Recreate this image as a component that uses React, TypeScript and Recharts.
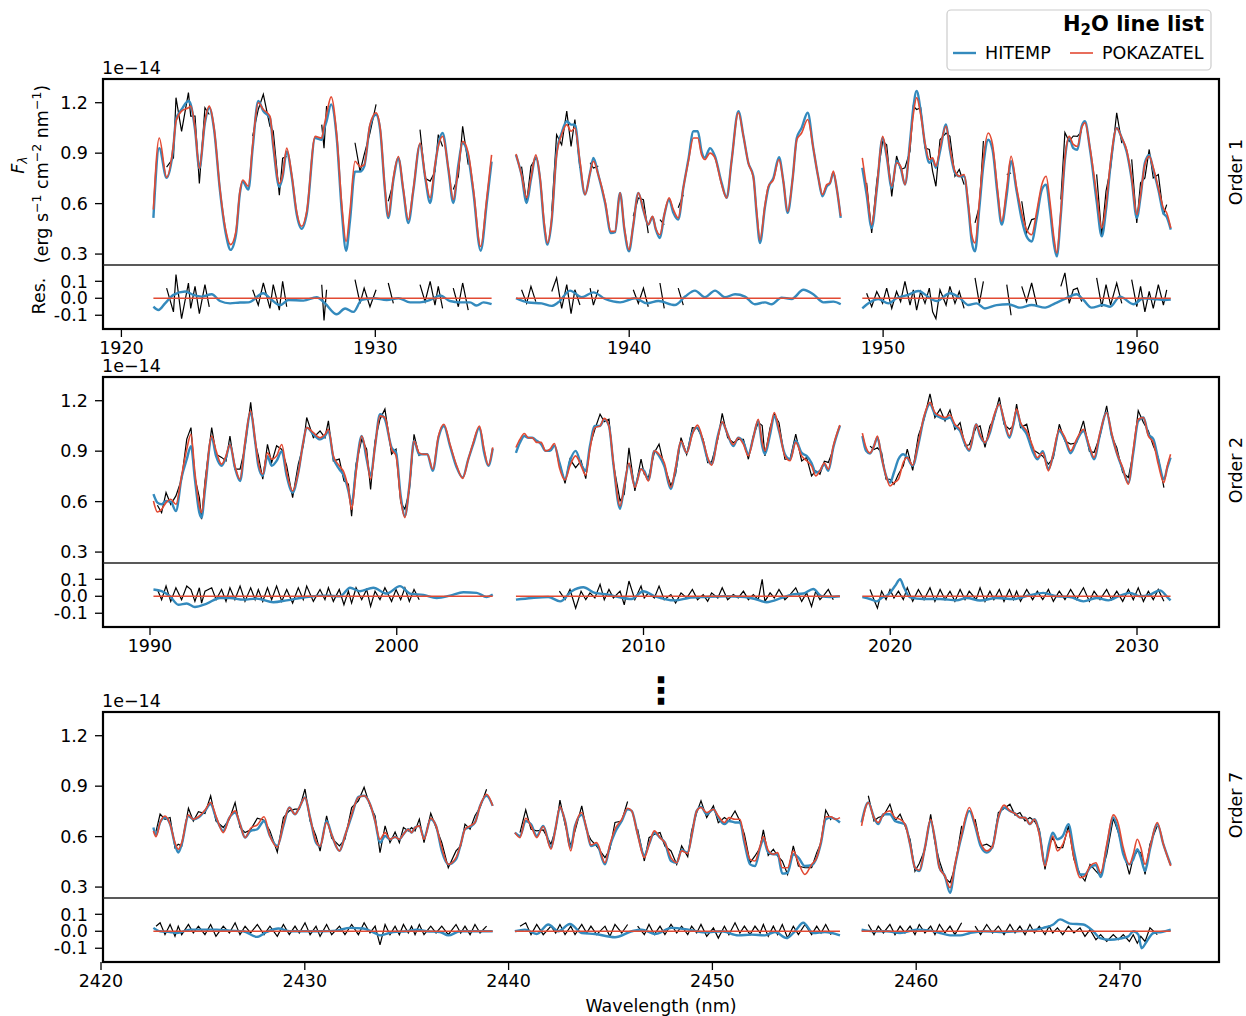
import { LineChart, Line, XAxis, YAxis } from "recharts";

type Row = [number, number, number, number | null];
type Pt = [number, number];

const BLUE = "#348ABD";
const RED = "#E24A33";
const FONT = "DejaVu Sans";
const FS = 17.5;

const MAIN_TICKS = [0.3, 0.6, 0.9, 1.2];
const RES_TICKS = [-0.1, 0, 0.1];
const O1_TICKS = [1920, 1930, 1940, 1950, 1960];
const O2_TICKS = [1990, 2000, 2010, 2020, 2030];
const O7_TICKS = [2420, 2430, 2440, 2450, 2460, 2470];

// [wavelength nm, POKAZATEL, HITEMP, (data - POKAZATEL) in 1e-16, null where masked]
const O1_A: Row[] = [
  [1921.26, 0.565, 0.515, null], [1921.49, 0.99, 0.93, null], [1921.78, 0.757, 0.753, 6], [1922.05, 0.952, 0.94, -8],
  [1922.15, 1.09, 1.1, 14], [1922.37, 1.15, 1.16, -12], [1922.64, 1.17, 1.21, 9], [1922.73, 1.18, 1.19, -6],
  [1922.9, 1.05, 1.04, 7], [1923.07, 0.81, 0.81, -9], [1923.29, 1.09, 1.08, 8], [1923.46, 1.18, 1.17, -5],
  [1923.65, 1.05, 1.04, null], [1923.88, 0.69, 0.68, null], [1924.12, 0.435, 0.415, null], [1924.3, 0.356, 0.325, null],
  [1924.51, 0.435, 0.415, null], [1924.67, 0.675, 0.665, null], [1924.78, 0.74, 0.73, null], [1925.0, 0.703, 0.683, null],
  [1925.17, 0.952, 0.93, 5], [1925.39, 1.2, 1.21, -4], [1925.59, 1.16, 1.15, 9], [1925.85, 1.12, 1.11, -6],
  [1925.98, 0.952, 0.94, 8], [1926.22, 0.72, 0.7, -7], [1926.35, 0.77, 0.76, 10], [1926.51, 0.93, 0.91, -5],
  [1926.71, 0.77, 0.76, null], [1926.9, 0.554, 0.54, null], [1927.1, 0.465, 0.45, null], [1927.3, 0.554, 0.54, null],
  [1927.63, 1.0, 0.99, null], [1927.89, 0.99, 0.98, 8], [1927.98, 1.06, 1.04, -13], [1928.08, 1.13, 1.09, 5],
  [1928.26, 1.235, 1.19, null], [1928.48, 1.01, 0.99, null], [1928.68, 0.594, 0.554, null], [1928.85, 0.375, 0.32, null],
  [1929.0, 0.554, 0.495, null], [1929.2, 0.852, 0.79, 11], [1929.4, 0.82, 0.79, -3], [1929.56, 0.83, 0.82, 6],
  [1929.79, 1.07, 1.06, -5], [1930.03, 1.14, 1.13, 5], [1930.19, 1.05, 1.04, null], [1930.38, 0.69, 0.68, null],
  [1930.51, 0.524, 0.514, 9], [1930.71, 0.753, 0.74, -3], [1930.91, 0.88, 0.87, null], [1931.1, 0.69, 0.68, null],
  [1931.3, 0.505, 0.485, null], [1931.5, 0.69, 0.68, null], [1931.76, 0.96, 0.95, 8], [1931.96, 0.77, 0.76, -2],
  [1932.16, 0.634, 0.604, 10], [1932.35, 0.83, 0.82, -4], [1932.48, 0.94, 0.95, 7], [1932.65, 1.0, 1.02, -6],
  [1932.88, 0.81, 0.8, null], [1933.07, 0.624, 0.604, 6], [1933.27, 0.81, 0.83, -5], [1933.44, 0.97, 0.96, 9],
  [1933.66, 0.902, 0.88, -7], [1933.86, 0.69, 0.67, null], [1934.15, 0.345, 0.32, null], [1934.39, 0.634, 0.604, null],
  [1934.58, 0.89, 0.85, null],
];
const O1_B: Row[] = [
  [1935.54, 0.895, 0.89, null], [1935.76, 0.77, 0.77, 5], [1935.96, 0.634, 0.604, -3], [1936.13, 0.753, 0.743, 7],
  [1936.32, 0.89, 0.875, -2], [1936.49, 0.753, 0.743, null], [1936.66, 0.475, 0.455, null], [1936.78, 0.366, 0.356, null],
  [1936.95, 0.515, 0.505, 4], [1937.14, 0.89, 0.9, 12], [1937.34, 1.01, 1.02, -6], [1937.54, 1.07, 1.09, 8],
  [1937.71, 1.03, 1.07, -9], [1937.86, 1.05, 1.07, 5], [1938.06, 0.852, 0.832, -4], [1938.26, 0.654, 0.654, null],
  [1938.46, 0.783, 0.783, 6], [1938.59, 0.852, 0.872, -4], [1938.78, 0.773, 0.773, 5], [1939.05, 0.614, 0.604, null],
  [1939.28, 0.435, 0.425, null], [1939.44, 0.435, 0.43, null], [1939.64, 0.664, 0.664, null], [1939.81, 0.455, 0.445, null],
  [1939.99, 0.326, 0.316, null], [1940.16, 0.475, 0.47, 5], [1940.36, 0.664, 0.664, -3], [1940.56, 0.564, 0.56, 6],
  [1940.75, 0.475, 0.475, -5], [1940.92, 0.525, 0.52, null], [1941.04, 0.455, 0.45, null], [1941.21, 0.415, 0.395, 9],
  [1941.38, 0.535, 0.53, -6], [1941.57, 0.634, 0.624, null], [1941.74, 0.564, 0.545, null], [1941.93, 0.515, 0.505, 6],
  [1942.13, 0.693, 0.693, -4], [1942.33, 0.852, 0.862, null], [1942.53, 0.99, 1.03, null], [1942.7, 0.99, 1.03, null],
  [1942.85, 0.89, 0.91, null], [1942.98, 0.862, 0.872, null], [1943.18, 0.9, 0.93, null], [1943.38, 0.87, 0.88, null],
  [1943.64, 0.713, 0.723, null], [1943.84, 0.634, 0.634, null], [1944.03, 0.852, 0.852, null], [1944.3, 1.14, 1.15, null],
  [1944.5, 1.0, 1.0, null], [1944.69, 0.843, 0.843, null], [1944.89, 0.753, 0.763, null], [1945.02, 0.554, 0.535, null],
  [1945.15, 0.385, 0.366, null], [1945.35, 0.594, 0.584, null], [1945.48, 0.703, 0.693, null], [1945.68, 0.743, 0.753, null],
  [1945.9, 0.862, 0.876, null], [1946.07, 0.733, 0.733, null], [1946.24, 0.554, 0.545, null], [1946.44, 0.753, 0.753, null],
  [1946.6, 0.98, 0.99, null], [1946.79, 1.02, 1.05, null], [1947.03, 1.1, 1.14, null], [1947.25, 0.93, 0.93, null],
  [1947.45, 0.753, 0.753, null], [1947.61, 0.654, 0.644, null], [1947.78, 0.713, 0.703, null], [1947.91, 0.723, 0.723, null],
  [1948.04, 0.793, 0.783, null], [1948.17, 0.693, 0.693, null], [1948.33, 0.525, 0.515, null],
];
const O1_C: Row[] = [
  [1949.18, 0.872, 0.813, null], [1949.35, 0.693, 0.654, 3], [1949.55, 0.475, 0.455, -5], [1949.75, 0.693, 0.683, 4],
  [1949.98, 1.0, 0.99, -3], [1950.14, 0.89, 0.88, 6], [1950.34, 0.703, 0.693, -6], [1950.53, 0.843, 0.852, 4],
  [1950.69, 0.823, 0.813, -2], [1950.86, 0.713, 0.713, 10], [1951.06, 0.952, 0.97, -4], [1951.19, 1.13, 1.17, 5],
  [1951.32, 1.23, 1.27, -7], [1951.48, 1.13, 1.15, 4], [1951.65, 0.96, 0.95, -3], [1951.82, 0.862, 0.843, 6],
  [1951.95, 0.872, 0.86, -8], [1952.08, 0.823, 0.813, -12], [1952.24, 0.93, 0.91, 5], [1952.48, 1.06, 1.07, -4],
  [1952.63, 0.93, 0.92, 7], [1952.83, 0.793, 0.783, -3], [1953.0, 0.763, 0.763, 4], [1953.19, 0.773, 0.763, -6],
  [1953.36, 0.594, 0.574, null], [1953.49, 0.415, 0.375, null], [1953.62, 0.366, 0.316, 12], [1953.79, 0.614, 0.574, -3],
  [1953.95, 0.872, 0.83, 10], [1954.14, 1.02, 0.98, null], [1954.31, 0.952, 0.92, null], [1954.5, 0.693, 0.663, null],
  [1954.67, 0.495, 0.475, null], [1954.87, 0.693, 0.654, 8], [1955.04, 0.882, 0.852, -10], [1955.26, 0.693, 0.673, null],
  [1955.46, 0.544, 0.505, 7], [1955.65, 0.445, 0.405, -2], [1955.85, 0.415, 0.375, 9], [1956.05, 0.554, 0.515, -4],
  [1956.25, 0.713, 0.683, null], [1956.42, 0.763, 0.713, null], [1956.57, 0.614, 0.564, null], [1956.73, 0.395, 0.356, null],
  [1956.84, 0.306, 0.286, null], [1957.0, 0.554, 0.534, 7], [1957.16, 0.872, 0.862, 15], [1957.33, 1.0, 0.99, -3],
  [1957.49, 0.952, 0.93, 5], [1957.65, 0.94, 0.92, 6], [1957.82, 1.05, 1.06, -2], [1957.95, 1.08, 1.09, null],
  [1958.15, 0.93, 0.92, null], [1958.41, 0.654, 0.614, 12], [1958.61, 0.455, 0.405, -5], [1958.78, 0.594, 0.564, 8],
  [1958.96, 0.852, 0.832, -4], [1959.2, 1.05, 1.05, 9], [1959.4, 0.99, 0.99, -3], [1959.59, 0.92, 0.91, null],
  [1959.79, 0.753, 0.743, 11], [1959.99, 0.535, 0.515, -5], [1960.14, 0.654, 0.64, 7], [1960.31, 0.833, 0.843, -8],
  [1960.48, 0.882, 0.89, 4], [1960.64, 0.813, 0.803, -6], [1960.84, 0.693, 0.683, 8], [1961.04, 0.574, 0.544, -4],
  [1961.17, 0.544, 0.52, 5], [1961.33, 0.455, 0.445, null],
];

const O2_A: Row[] = [
  [1990.14, 0.604, 0.644, null], [1990.3, 0.538, 0.594, 4], [1990.47, 0.554, 0.584, -2], [1990.65, 0.594, 0.604, 6],
  [1990.84, 0.614, 0.6, -3], [1991.05, 0.584, 0.544, 5], [1991.28, 0.753, 0.743, -2], [1991.49, 0.912, 0.852, 6],
  [1991.66, 1.0, 0.93, 4], [1991.82, 0.773, 0.733, -3], [1992.0, 0.574, 0.534, 5], [1992.09, 0.535, 0.505, -4],
  [1992.23, 0.693, 0.673, 3], [1992.5, 0.99, 0.98, 5], [1992.68, 0.902, 0.87, -2], [1992.9, 0.823, 0.813, 4],
  [1993.08, 0.872, 0.862, -3], [1993.24, 0.94, 0.94, 5], [1993.44, 0.813, 0.803, -2], [1993.65, 0.733, 0.723, 6],
  [1993.85, 0.952, 0.94, -3], [1994.08, 1.14, 1.13, 5], [1994.26, 0.97, 0.96, -2], [1994.39, 0.833, 0.813, 4],
  [1994.57, 0.763, 0.753, -3], [1994.76, 0.89, 0.87, 5], [1994.93, 0.852, 0.813, -2], [1995.13, 0.872, 0.842, 6],
  [1995.34, 0.94, 0.9, -3], [1995.54, 0.773, 0.753, 4], [1995.78, 0.664, 0.654, -4], [1996.01, 0.773, 0.773, 5],
  [1996.21, 0.952, 0.952, -2], [1996.35, 1.04, 1.04, 6], [1996.62, 1.01, 1.0, -3], [1996.89, 0.98, 0.97, 4],
  [1997.09, 1.0, 0.99, -2], [1997.23, 1.03, 1.02, 5], [1997.43, 0.872, 0.862, -3], [1997.67, 0.813, 0.793, 4],
  [1997.86, 0.773, 0.753, -5], [1998.04, 0.674, 0.664, 3], [1998.17, 0.554, 0.584, -4], [1998.35, 0.773, 0.793, 5],
  [1998.58, 0.99, 0.99, -2], [1998.78, 0.872, 0.852, 4], [1998.94, 0.733, 0.753, -6], [1999.12, 0.93, 0.93, 3],
  [1999.32, 1.11, 1.12, -2], [1999.52, 1.1, 1.09, 5], [1999.79, 0.912, 0.922, -3], [1999.97, 0.872, 0.892, 4],
  [2000.16, 0.614, 0.634, -2], [2000.33, 0.505, 0.515, 5], [2000.51, 0.693, 0.693, -3], [2000.7, 0.96, 0.96, 4],
  [2000.91, 0.89, 0.88, -2], [2001.08, 0.882, 0.882, null], [2001.24, 0.882, 0.882, null], [2001.46, 0.793, 0.783, null],
  [2001.69, 0.99, 0.98, null], [2001.91, 1.06, 1.05, null], [2002.16, 0.94, 0.93, null], [2002.43, 0.813, 0.803, null],
  [2002.67, 0.738, 0.743, null], [2002.9, 0.852, 0.852, null], [2003.1, 0.952, 0.942, null], [2003.35, 1.05, 1.04, null],
  [2003.54, 0.912, 0.892, null], [2003.71, 0.816, 0.813, null], [2003.89, 0.922, 0.916, null],
];
const O2_B: Row[] = [
  [2004.83, 0.922, 0.89, null], [2004.99, 0.97, 0.95, null], [2005.17, 1.005, 0.99, null], [2005.33, 0.98, 0.98, null],
  [2005.49, 0.98, 0.98, null], [2005.67, 0.952, 0.962, null], [2005.85, 0.952, 0.942, null], [2006.03, 0.902, 0.902, null],
  [2006.21, 0.912, 0.902, null], [2006.39, 0.946, 0.932, null], [2006.59, 0.803, 0.833, 3], [2006.82, 0.729, 0.733, -2],
  [2007.02, 0.813, 0.843, 4], [2007.25, 0.872, 0.902, -7], [2007.47, 0.813, 0.823, 3], [2007.66, 0.757, 0.783, -2],
  [2007.83, 0.912, 0.932, 2], [2008.03, 1.04, 1.05, -1], [2008.24, 1.05, 1.05, 7], [2008.41, 1.095, 1.09, -2],
  [2008.6, 1.05, 1.05, 4], [2008.78, 0.833, 0.823, -1], [2009.05, 0.574, 0.558, 3], [2009.22, 0.693, 0.693, -5],
  [2009.41, 0.83, 0.823, 9], [2009.65, 0.684, 0.693, -2], [2009.9, 0.793, 0.793, 6], [2010.03, 0.773, 0.783, -1],
  [2010.2, 0.723, 0.729, 2], [2010.44, 0.902, 0.902, -1], [2010.63, 0.882, 0.872, 6], [2010.84, 0.833, 0.813, -2],
  [2011.11, 0.684, 0.674, 1], [2011.3, 0.803, 0.793, -4], [2011.52, 0.96, 0.952, 2], [2011.75, 0.89, 0.89, -1],
  [2011.98, 1.0, 1.01, 4], [2012.19, 1.055, 1.04, -2], [2012.42, 0.96, 0.952, 1], [2012.6, 0.862, 0.852, -3],
  [2012.76, 0.816, 0.823, 2], [2013.01, 0.98, 0.99, -1], [2013.19, 1.075, 1.07, 5], [2013.41, 1.0, 1.0, -2],
  [2013.64, 0.94, 0.93, 1], [2013.84, 0.98, 0.98, -1], [2014.05, 0.94, 0.952, 3], [2014.25, 0.872, 0.882, -2],
  [2014.45, 0.98, 0.98, 1], [2014.65, 1.09, 1.08, -2], [2014.81, 0.952, 0.932, 10], [2014.92, 0.902, 0.882, -3],
  [2015.13, 1.02, 1.0, 2], [2015.3, 1.13, 1.11, -1], [2015.49, 1.03, 1.02, 4], [2015.73, 0.872, 0.882, -2],
  [2015.94, 0.843, 0.852, 1], [2016.17, 0.952, 0.962, 5], [2016.41, 0.872, 0.89, -3], [2016.61, 0.843, 0.872, 2],
  [2016.81, 0.813, 0.83, -6], [2016.98, 0.753, 0.773, 3], [2017.15, 0.783, 0.783, -2], [2017.33, 0.83, 0.823, 1],
  [2017.49, 0.793, 0.783, 4], [2017.69, 0.93, 0.92, -2], [2017.96, 1.055, 1.05, null],
];
const O2_C: Row[] = [
  [2018.87, 1.007, 0.99, null], [2019.02, 0.922, 0.902, null], [2019.18, 0.89, 0.886, 4], [2019.34, 0.93, 0.93, -2],
  [2019.48, 0.99, 0.98, -7], [2019.65, 0.862, 0.862, 3], [2019.83, 0.753, 0.753, -2], [2019.99, 0.693, 0.713, 4],
  [2020.15, 0.713, 0.773, -1], [2020.33, 0.733, 0.852, 3], [2020.53, 0.833, 0.882, -2], [2020.69, 0.862, 0.862, 5],
  [2020.91, 0.816, 0.813, -3], [2021.14, 0.952, 0.94, 4], [2021.37, 1.11, 1.1, -2], [2021.61, 1.19, 1.18, 5],
  [2021.81, 1.13, 1.12, -3], [2022.02, 1.11, 1.1, 4], [2022.22, 1.1, 1.09, -2], [2022.42, 1.115, 1.1, 3],
  [2022.62, 1.06, 1.05, -3], [2022.83, 1.03, 1.02, 4], [2023.03, 0.952, 0.942, -2], [2023.2, 0.908, 0.902, 3],
  [2023.48, 1.06, 1.06, -2], [2023.64, 1.0, 0.99, 5], [2023.84, 0.952, 0.952, -3], [2024.04, 1.02, 1.01, 3],
  [2024.2, 1.11, 1.1, -2], [2024.42, 1.18, 1.18, 4], [2024.61, 1.09, 1.08, -3], [2024.83, 0.99, 0.98, 4],
  [2024.99, 1.07, 1.06, -2], [2025.12, 1.15, 1.14, 3], [2025.28, 1.07, 1.06, -3], [2025.53, 1.02, 1.0, 4],
  [2025.77, 0.93, 0.9, -2], [2025.96, 0.862, 0.852, 3], [2026.18, 0.89, 0.9, -2], [2026.41, 0.783, 0.793, 4],
  [2026.61, 0.89, 0.88, -3], [2026.85, 1.03, 1.02, 3], [2027.08, 0.98, 0.97, -2], [2027.31, 0.902, 0.888, 4],
  [2027.55, 0.97, 0.96, -2], [2027.83, 1.03, 1.02, 5], [2028.07, 0.93, 0.92, -3], [2028.26, 0.862, 0.852, 3],
  [2028.5, 1.01, 1.0, -2], [2028.77, 1.13, 1.13, 4], [2028.97, 1.01, 1.0, -2], [2029.18, 0.89, 0.89, 3],
  [2029.42, 0.803, 0.793, -3], [2029.65, 0.703, 0.713, 4], [2029.85, 0.912, 0.892, -2], [2030.05, 1.09, 1.08, 5],
  [2030.26, 1.1, 1.1, -3], [2030.46, 0.99, 1.0, 3], [2030.66, 0.952, 0.972, -2], [2030.86, 0.823, 0.852, 4],
  [2031.09, 0.713, 0.733, -3], [2031.23, 0.813, 0.803, null], [2031.36, 0.882, 0.862, null],
];

const O7_A: Row[] = [
  [2422.57, 0.634, 0.654, null], [2422.7, 0.6, 0.61, 3], [2422.9, 0.684, 0.684, 5], [2423.14, 0.723, 0.713, -2],
  [2423.39, 0.674, 0.674, 4], [2423.63, 0.564, 0.554, -3], [2423.79, 0.525, 0.505, 3], [2423.96, 0.564, 0.554, -2],
  [2424.29, 0.729, 0.723, 4], [2424.53, 0.703, 0.703, -1], [2424.78, 0.718, 0.713, 3], [2425.1, 0.757, 0.753, -2],
  [2425.38, 0.803, 0.793, 4], [2425.64, 0.723, 0.713, -3], [2426.0, 0.624, 0.634, 3], [2426.3, 0.713, 0.713, -1],
  [2426.58, 0.753, 0.743, 5], [2426.82, 0.674, 0.674, -2], [2427.07, 0.594, 0.594, 3], [2427.34, 0.65, 0.634, -1],
  [2427.67, 0.67, 0.644, 4], [2428.0, 0.718, 0.693, -2], [2428.29, 0.604, 0.604, 3], [2428.65, 0.538, 0.544, -3],
  [2428.95, 0.674, 0.664, 4], [2429.24, 0.773, 0.773, -2], [2429.52, 0.733, 0.733, 3], [2429.73, 0.773, 0.773, -1],
  [2430.01, 0.833, 0.833, 5], [2430.26, 0.713, 0.713, -2], [2430.55, 0.574, 0.564, 3], [2430.75, 0.544, 0.544, -3],
  [2431.07, 0.684, 0.693, 4], [2431.32, 0.61, 0.61, -2], [2431.7, 0.515, 0.515, 3], [2431.97, 0.604, 0.604, -2],
  [2432.3, 0.733, 0.723, 4], [2432.63, 0.833, 0.837, -2], [2432.91, 0.843, 0.843, 5], [2433.2, 0.793, 0.793, -1],
  [2433.45, 0.693, 0.693, 3], [2433.69, 0.584, 0.564, -8], [2433.94, 0.624, 0.604, 4], [2434.18, 0.584, 0.584, -2],
  [2434.43, 0.598, 0.598, 3], [2434.64, 0.584, 0.584, -2], [2434.84, 0.614, 0.614, 4], [2435.08, 0.644, 0.644, -1],
  [2435.24, 0.624, 0.624, 3], [2435.41, 0.654, 0.654, -2], [2435.62, 0.664, 0.664, 4], [2435.85, 0.584, 0.594, -2],
  [2436.18, 0.709, 0.703, 3], [2436.44, 0.664, 0.664, -1], [2436.72, 0.535, 0.515, 3], [2437.04, 0.435, 0.435, -2],
  [2437.42, 0.475, 0.465, 4], [2437.65, 0.554, 0.554, -1], [2437.86, 0.644, 0.644, 3], [2438.11, 0.664, 0.658, -2],
  [2438.35, 0.684, 0.684, 4], [2438.6, 0.783, 0.783, -1], [2438.92, 0.852, 0.842, 3], [2439.22, 0.783, 0.783, null],
];
const O7_B: Row[] = [
  [2440.31, 0.624, 0.624, null], [2440.56, 0.594, 0.604, 3], [2440.84, 0.709, 0.693, 5], [2441.1, 0.664, 0.674, -2],
  [2441.38, 0.594, 0.604, 4], [2441.7, 0.66, 0.664, -2], [2442.08, 0.525, 0.535, 3], [2442.31, 0.654, 0.654, -1],
  [2442.52, 0.777, 0.773, 4], [2442.77, 0.693, 0.693, -2], [2443.05, 0.515, 0.535, 3], [2443.26, 0.654, 0.664, -2],
  [2443.59, 0.743, 0.729, 4], [2443.83, 0.644, 0.644, -1], [2444.04, 0.55, 0.544, 3], [2444.32, 0.564, 0.554, -2],
  [2444.73, 0.445, 0.435, 3], [2444.97, 0.554, 0.544, -3], [2445.22, 0.644, 0.624, 4], [2445.55, 0.703, 0.693, -1],
  [2445.84, 0.769, 0.763, 4], [2446.04, 0.753, 0.753, null], [2446.33, 0.614, 0.618, 3], [2446.66, 0.475, 0.49, -2],
  [2446.89, 0.554, 0.554, 4], [2447.15, 0.634, 0.624, -2], [2447.43, 0.594, 0.594, 3], [2447.67, 0.564, 0.564, -2],
  [2447.97, 0.475, 0.455, 4], [2448.25, 0.445, 0.445, -1], [2448.49, 0.515, 0.519, 3], [2448.79, 0.5, 0.505, -2],
  [2448.98, 0.604, 0.604, 3], [2449.23, 0.753, 0.753, -1], [2449.44, 0.773, 0.777, 4], [2449.72, 0.743, 0.733, -3],
  [2450.05, 0.763, 0.763, 2], [2450.29, 0.723, 0.713, -4], [2450.59, 0.684, 0.674, 3], [2450.81, 0.713, 0.693, -2],
  [2451.11, 0.703, 0.684, 5], [2451.35, 0.703, 0.684, -1], [2451.57, 0.584, 0.564, 3], [2451.85, 0.465, 0.435, -2],
  [2452.09, 0.455, 0.425, 3], [2452.34, 0.544, 0.534, -1], [2452.5, 0.6, 0.584, 4], [2452.74, 0.518, 0.505, -3],
  [2452.99, 0.495, 0.495, 3], [2453.2, 0.505, 0.495, -2], [2453.43, 0.415, 0.38, 4], [2453.69, 0.415, 0.385, -4],
  [2453.97, 0.515, 0.495, 3], [2454.22, 0.445, 0.475, -2], [2454.54, 0.375, 0.425, 4], [2454.87, 0.435, 0.43, -2],
  [2455.12, 0.475, 0.475, 3], [2455.33, 0.574, 0.564, -1], [2455.56, 0.718, 0.703, 4], [2455.82, 0.718, 0.713, -2],
  [2456.05, 0.703, 0.703, null], [2456.26, 0.713, 0.684, null],
];
const O7_C: Row[] = [
  [2457.32, 0.664, 0.684, null], [2457.65, 0.803, 0.803, 4], [2457.93, 0.713, 0.713, -2], [2458.14, 0.684, 0.674, 3],
  [2458.39, 0.733, 0.733, -1], [2458.71, 0.753, 0.733, 4], [2458.96, 0.713, 0.693, -2], [2459.21, 0.703, 0.683, 3],
  [2459.45, 0.674, 0.674, -1], [2459.7, 0.554, 0.554, 3], [2459.94, 0.415, 0.415, -2], [2460.15, 0.4, 0.395, 4],
  [2460.43, 0.535, 0.535, -1], [2460.71, 0.703, 0.693, 3], [2460.92, 0.584, 0.584, -2], [2461.14, 0.415, 0.415, 4],
  [2461.41, 0.366, 0.366, -1], [2461.66, 0.296, 0.266, 3], [2461.9, 0.435, 0.425, -2], [2462.23, 0.614, 0.604, 5],
  [2462.61, 0.773, 0.753, null], [2462.89, 0.674, 0.664, 3], [2463.16, 0.564, 0.544, -2], [2463.46, 0.515, 0.505, 4],
  [2463.75, 0.544, 0.544, -1], [2464.03, 0.713, 0.713, 3], [2464.31, 0.787, 0.773, -2], [2464.6, 0.753, 0.753, 4],
  [2464.85, 0.738, 0.738, -1], [2465.09, 0.713, 0.713, 3], [2465.34, 0.713, 0.713, -2], [2465.58, 0.674, 0.674, 4],
  [2465.8, 0.703, 0.703, -1], [2466.04, 0.614, 0.624, 3], [2466.32, 0.425, 0.435, -2], [2466.52, 0.515, 0.554, 3],
  [2466.7, 0.604, 0.624, -1], [2466.93, 0.515, 0.584, 2], [2467.19, 0.554, 0.604, -2], [2467.47, 0.634, 0.674, 3],
  [2467.74, 0.475, 0.515, -1], [2468.04, 0.356, 0.375, 2], [2468.28, 0.366, 0.375, -3], [2468.53, 0.425, 0.415, 1],
  [2468.82, 0.445, 0.431, -5], [2469.05, 0.385, 0.36, -2], [2469.35, 0.554, 0.534, -6], [2469.67, 0.729, 0.713, -2],
  [2469.92, 0.674, 0.634, -5], [2470.16, 0.535, 0.495, -2], [2470.46, 0.435, 0.435, -6], [2470.65, 0.495, 0.465, -2],
  [2470.85, 0.584, 0.525, -7], [2471.02, 0.535, 0.475, -3], [2471.23, 0.435, 0.395, -6], [2471.47, 0.535, 0.525, 2],
  [2471.83, 0.684, 0.674, -2], [2472.13, 0.554, 0.554, null], [2472.49, 0.425, 0.431, null],
];

// HITEMP - POKAZATEL residual curve, [wavelength nm, value]
const O1_A_DIFF: Pt[] = [
  [1921.26, -0.049], [1921.46, -0.069], [1921.72, -0.03], [1922.05, 0.02], [1922.51, 0.04], [1922.83, 0.02],
  [1923.16, 0.01], [1923.56, 0.024], [1923.88, -0.016], [1924.28, -0.03], [1924.67, -0.025], [1925.0, -0.024],
  [1925.59, 0.03], [1925.85, 0], [1926.25, -0.04], [1926.58, -0.01], [1927.17, -0.014], [1927.69, 0.006],
  [1928.02, -0.03], [1928.48, -0.094], [1928.81, -0.06], [1929.14, -0.08], [1929.46, -0.01], [1929.92, 0],
  [1930.45, -0.01], [1930.91, 0], [1931.37, -0.024], [1931.76, -0.024], [1932.16, -0.01], [1932.55, 0.016],
  [1932.94, -0.016], [1933.34, -0.024], [1933.73, -0.024], [1933.99, -0.043], [1934.26, -0.024], [1934.58, -0.035],
];
const O1_B_DIFF: Pt[] = [
  [1935.54, 0], [1936.03, -0.025], [1936.55, -0.03], [1936.95, -0.045], [1937.21, -0.024], [1937.67, 0.045],
  [1938.13, 0.006], [1938.59, 0.035], [1939.05, -0.004], [1939.64, -0.024], [1940.23, 0], [1940.69, -0.03],
  [1941.15, -0.016], [1941.8, -0.04], [1942.2, 0.01], [1942.59, 0.045], [1942.98, 0.006], [1943.38, 0.045],
  [1943.77, 0.006], [1944.17, 0.024], [1944.56, 0.01], [1944.95, -0.035], [1945.35, -0.024], [1945.61, -0.035],
  [1946.0, 0.004], [1946.4, -0.004], [1946.86, 0.05], [1947.25, 0.024], [1947.65, -0.024], [1948.04, -0.02],
  [1948.33, -0.035],
];
const O1_C_DIFF: Pt[] = [
  [1949.18, -0.06], [1949.48, -0.024], [1949.81, -0.004], [1950.21, -0.03], [1950.53, 0], [1950.99, 0.02],
  [1951.39, 0.043], [1951.85, 0], [1952.11, -0.016], [1952.63, 0.03], [1953.03, 0], [1953.36, -0.04],
  [1953.68, -0.03], [1954.01, -0.06], [1954.47, -0.04], [1954.93, -0.035], [1955.39, -0.055], [1955.85, -0.04],
  [1956.38, -0.055], [1956.77, -0.03], [1957.16, -0.004], [1957.62, 0.024], [1957.89, -0.01], [1958.21, -0.055],
  [1958.67, -0.04], [1958.94, -0.05], [1959.33, 0.01], [1959.86, -0.035], [1960.25, 0], [1960.64, -0.004],
  [1961.1, -0.01], [1961.33, -0.008],
];
const O2_A_DIFF: Pt[] = [
  [1990.14, 0.04], [1990.47, 0.03], [1990.81, 0], [1991.15, -0.05], [1991.49, -0.043], [1991.82, -0.063],
  [1992.3, -0.043], [1992.84, -0.01], [1993.24, -0.01], [1993.78, -0.02], [1994.32, -0.014], [1995.0, -0.035],
  [1995.54, -0.024], [1996.35, -0.004], [1997.16, 0.004], [1997.7, 0], [1998.11, 0.05], [1998.51, 0.03],
  [1999.05, 0.05], [1999.59, 0.016], [2000.13, 0.06], [2000.54, 0.016], [2001.08, 0.008], [2001.62, -0.01],
  [2002.16, 0.004], [2002.7, 0.024], [2003.24, 0.02], [2003.64, -0.004], [2003.89, 0.01],
];
const O2_B_DIFF: Pt[] = [
  [2004.83, -0.02], [2005.47, -0.01], [2006.14, -0.004], [2006.62, -0.03], [2007.09, 0.03], [2007.56, 0.053],
  [2008.03, 0.02], [2008.57, 0.01], [2008.98, -0.004], [2009.52, -0.016], [2009.99, 0.03], [2010.47, 0],
  [2011.28, -0.024], [2011.82, -0.01], [2012.49, -0.004], [2013.3, 0], [2014.11, -0.004], [2014.52, -0.016],
  [2014.99, -0.035], [2015.6, -0.01], [2016.0, 0.01], [2016.48, 0.016], [2016.88, 0.043], [2017.22, 0],
  [2017.56, -0.004], [2017.96, 0],
];
const O2_C_DIFF: Pt[] = [
  [2018.87, -0.004], [2019.18, -0.016], [2019.45, -0.03], [2019.65, -0.01], [2019.92, 0.01], [2020.19, 0.06],
  [2020.4, 0.1], [2020.56, 0.05], [2020.8, -0.006], [2021.34, -0.016], [2022.02, -0.016], [2022.69, -0.024],
  [2023.1, -0.01], [2023.64, -0.025], [2024.31, -0.01], [2024.99, -0.016], [2025.66, 0.006], [2026.2, 0.02],
  [2026.74, 0], [2027.28, -0.004], [2027.83, -0.03], [2028.36, -0.01], [2028.84, -0.024], [2029.31, 0.004],
  [2029.72, 0.02], [2030.12, 0], [2030.53, 0.01], [2030.93, 0.035], [2031.2, 0], [2031.36, -0.024],
];
const O7_A_DIFF: Pt[] = [
  [2422.57, 0.02], [2422.9, 0], [2423.39, -0.004], [2423.71, -0.01], [2424.37, 0.01], [2425.02, 0.01],
  [2425.68, 0.01], [2426.33, 0.004], [2426.98, 0], [2427.64, -0.033], [2428.13, -0.004], [2428.7, 0.016],
  [2429.27, 0], [2430.09, 0], [2430.83, 0], [2431.56, 0.004], [2432.22, 0.02], [2432.87, 0.016],
  [2433.36, -0.006], [2433.69, -0.024], [2434.34, -0.004], [2435.0, 0], [2435.49, 0.01], [2435.98, 0],
  [2436.63, -0.004], [2437.04, -0.024], [2437.62, 0], [2438.27, 0], [2439.22, 0],
];
const O7_B_DIFF: Pt[] = [
  [2440.31, 0], [2440.8, 0.01], [2441.38, -0.016], [2441.95, 0.04], [2442.44, 0], [2443.01, 0.043],
  [2443.59, -0.01], [2444.24, -0.016], [2445.22, -0.035], [2446.04, 0], [2446.53, 0.01], [2447.18, -0.016],
  [2448.0, 0.02], [2448.82, 0.01], [2449.64, -0.006], [2450.46, 0], [2451.27, -0.024], [2451.93, -0.02],
  [2452.58, -0.024], [2453.07, -0.004], [2453.64, -0.04], [2454.05, 0], [2454.46, 0.05], [2454.95, -0.01],
  [2455.52, -0.004], [2456.26, -0.024],
];
const O7_C_DIFF: Pt[] = [
  [2457.32, 0.01], [2457.9, 0], [2458.55, 0], [2459.21, -0.01], [2460.02, 0.01], [2460.68, 0.004],
  [2461.17, -0.01], [2461.66, -0.024], [2462.15, -0.024], [2462.64, -0.01], [2463.29, 0], [2464.11, -0.004],
  [2464.93, 0], [2465.58, 0.004], [2466.24, 0.02], [2466.73, 0.04], [2467.06, 0.07], [2467.55, 0.045],
  [2468.2, 0.04], [2468.69, 0], [2469.02, -0.04], [2469.51, -0.05], [2470.0, -0.043], [2470.41, -0.03],
  [2470.66, 0], [2470.9, -0.02], [2471.06, -0.1], [2471.31, -0.06], [2471.64, -0.01], [2472.05, -0.004],
  [2472.49, 0.01],
];

const tickStyle = { fontSize: FS, fill: "#000", fontFamily: FONT };
const tickLine = { stroke: "#000", strokeWidth: 1.3 };

type Seg = [Row[], Pt[]];

function Panel({ top, domain, ticks, segs }: { top: number; domain: [number, number]; ticks: number[]; segs: Seg[] }) {
  const tables = segs.map(([rows, diff]) => ({
    rows: rows.map(([x, red, blue, res]) => ({
      x,
      red,
      blue,
      obs: res == null ? null : red + res / 100,
      res: res == null ? null : res / 100,
    })),
    diff: diff.map(([x, v]) => ({ x, v })),
    zero: [
      { x: rows[0][0], v: 0 },
      { x: rows[rows.length - 1][0], v: 0 },
    ],
  }));

  const common = { dot: false, activeDot: false, isAnimationActive: false } as const;

  return (
    <>
      <div style={{ position: "absolute", left: 0, top }}>
        <LineChart width={1246} height={186} margin={{ top: 0, right: 27, bottom: 0, left: 0 }}>
          <XAxis type="number" dataKey="x" domain={domain} hide allowDataOverflow />
          <YAxis
            type="number"
            domain={[0.235, 1.341]}
            ticks={MAIN_TICKS}
            interval={0}
            width={103}
            tickSize={8}
            tickMargin={7}
            axisLine={false}
            tickLine={tickLine}
            tick={tickStyle}
            tickFormatter={(v: number) => v.toFixed(1)}
            allowDataOverflow
          />
          {tables.flatMap((t, i) => [
            <Line key={`o${i}`} data={t.rows} dataKey="obs" type="linear" stroke="#000" strokeWidth={1.2} {...common} />,
            <Line key={`b${i}`} data={t.rows} dataKey="blue" type="monotone" stroke={BLUE} strokeWidth={2.4} {...common} />,
            <Line key={`r${i}`} data={t.rows} dataKey="red" type="monotone" stroke={RED} strokeWidth={1.6} {...common} />,
          ])}
        </LineChart>
      </div>
      <div style={{ position: "absolute", left: 0, top: top + 186 }}>
        <LineChart width={1246} height={104} margin={{ top: 0, right: 27, bottom: 0, left: 0 }}>
          <XAxis
            type="number"
            dataKey="x"
            domain={domain}
            ticks={ticks}
            interval={0}
            height={40}
            tickSize={8}
            tickMargin={5}
            axisLine={false}
            tickLine={tickLine}
            tick={tickStyle}
            allowDataOverflow
          />
          <YAxis
            type="number"
            domain={[-0.181, 0.196]}
            ticks={RES_TICKS}
            interval={0}
            width={103}
            tickSize={8}
            tickMargin={7}
            axisLine={false}
            tickLine={tickLine}
            tick={tickStyle}
            tickFormatter={(v: number) => v.toFixed(1)}
            allowDataOverflow
          />
          {tables.flatMap((t, i) => [
            <Line key={`ro${i}`} data={t.rows} dataKey="res" type="linear" stroke="#000" strokeWidth={1.2} {...common} />,
            <Line key={`rb${i}`} data={t.diff} dataKey="v" type="monotone" stroke={BLUE} strokeWidth={2.4} {...common} />,
            <Line key={`rr${i}`} data={t.zero} dataKey="v" type="linear" stroke={RED} strokeWidth={1.6} {...common} />,
          ])}
        </LineChart>
      </div>
    </>
  );
}

function Frame({ top, order }: { top: number; order: number }) {
  return (
    <g>
      <rect x={103} y={top} width={1116} height={250} fill="none" stroke="#000" strokeWidth={2.2} />
      <line x1={103} x2={1219} y1={top + 186} y2={top + 186} stroke="#222" strokeWidth={1.3} />
      <text x={102} y={top - 5} fontSize={FS}>1e−14</text>
      <text transform={`translate(1242, ${top + 93}) rotate(-90)`} textAnchor="middle" fontSize={FS}>
        Order {order}
      </text>
    </g>
  );
}

export default function App() {
  return (
    <div style={{ position: "absolute", left: 0, top: 0, width: 1246, height: 1016, background: "#fff", fontFamily: FONT }}>
      <Panel top={79} domain={[1919.275, 1963.229]} ticks={O1_TICKS} segs={[[O1_A, O1_A_DIFF], [O1_B, O1_B_DIFF], [O1_C, O1_C_DIFF]]} />
      <Panel top={377} domain={[1988.095, 2033.323]} ticks={O2_TICKS} segs={[[O2_A, O2_A_DIFF], [O2_B, O2_B_DIFF], [O2_C, O2_C_DIFF]]} />
      <Panel top={712} domain={[2420.098, 2474.858]} ticks={O7_TICKS} segs={[[O7_A, O7_A_DIFF], [O7_B, O7_B_DIFF], [O7_C, O7_C_DIFF]]} />
      <svg
        width={1246}
        height={1016}
        style={{ position: "absolute", left: 0, top: 0, pointerEvents: "none" }}
        fontFamily={FONT}
      >
        <Frame top={79} order={1} />
        <Frame top={377} order={2} />
        <Frame top={712} order={7} />

        <text transform="translate(24, 165) rotate(-90)" textAnchor="middle" fontSize={FS}>
          <tspan fontStyle="italic">F</tspan>
          <tspan fontStyle="italic" fontSize={12.5} dy={3}>λ</tspan>
        </text>
        <text transform="translate(48, 174) rotate(-90)" textAnchor="middle" fontSize={FS}>
          <tspan>(erg s</tspan>
          <tspan fontSize={12.5} dy={-7}>−1</tspan>
          <tspan dy={7}> cm</tspan>
          <tspan fontSize={12.5} dy={-7}>−2</tspan>
          <tspan dy={7}> nm</tspan>
          <tspan fontSize={12.5} dy={-7}>−1</tspan>
          <tspan dy={7}>)</tspan>
        </text>
        <text transform="translate(45, 296) rotate(-90)" textAnchor="middle" fontSize={FS}>Res.</text>

        <text x={661} y={703} textAnchor="middle" fontSize={36} fontWeight="bold">⋮</text>
        <text x={661} y={1012} textAnchor="middle" fontSize={FS}>Wavelength (nm)</text>

        <rect x={947} y={10} width={264} height={60} rx={4} fill="#fff" stroke="#cccccc" strokeWidth={1.2} />
        <text x={1204} y={31} textAnchor="end" fontSize={21} fontWeight="bold">
          <tspan>H</tspan>
          <tspan fontSize={15} dy={4}>2</tspan>
          <tspan dy={-4}>O line list</tspan>
        </text>
        <line x1={953} x2={976} y1={53} y2={53} stroke={BLUE} strokeWidth={2.4} />
        <text x={985} y={59} fontSize={FS}>HITEMP</text>
        <line x1={1070} x2={1093} y1={53} y2={53} stroke={RED} strokeWidth={1.6} />
        <text x={1102} y={59} fontSize={FS}>POKAZATEL</text>
      </svg>
    </div>
  );
}
